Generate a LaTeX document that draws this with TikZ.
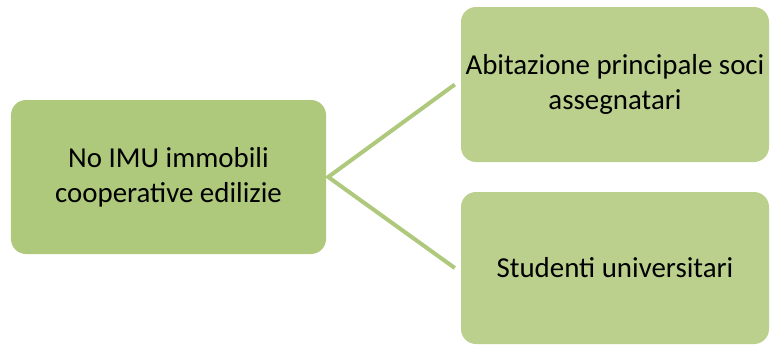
\documentclass[tikz,border=0pt]{standalone}
\usepackage{fontspec}
\setmainfont{Carlito}
\definecolor{leftgreen}{RGB}{175,201,124}
\definecolor{rightgreen}{RGB}{188,208,141}
\begin{document}
\begin{tikzpicture}[x=1bp,y=-1bp,
  box/.style={rounded corners=15bp, inner sep=0pt, align=center,
    font=\fontsize{29}{35}\selectfont, text=black},
  conn/.style={draw=leftgreen, line width=4bp}]
\useasboundingbox (0,0) rectangle (770,345);
\node[box, fill=leftgreen, minimum width=315bp, minimum height=154bp] (main) at (168.5,177) {No IMU immobili\\cooperative edilizie};
\node[box, fill=rightgreen, minimum width=308bp, minimum height=155bp] (top) at (615,84.5) {Abitazione principale soci\\assegnatari};
\node[box, fill=rightgreen, minimum width=308bp, minimum height=152bp] (bot) at (615,268) {Studenti universitari};
\coordinate (apex) at ([xshift=2bp]main.east);
\coordinate (t) at ([xshift=-6bp]top.west);
\coordinate (b) at ([xshift=-6bp]bot.west);
\draw[conn] (t) -- (apex) -- (b);
\end{tikzpicture}
\end{document}
